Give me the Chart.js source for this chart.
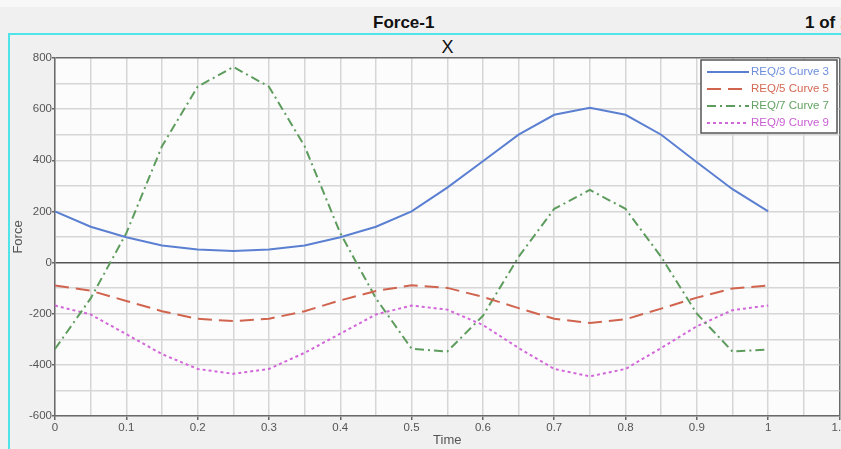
<!DOCTYPE html>
<html>
<head>
<meta charset="utf-8">
<script src="https://cdn.jsdelivr.net/npm/chart.js@4.4.0/dist/chart.umd.min.js"></script>
<style>
  body { margin: 0; width: 841px; height: 449px; overflow: hidden; background: #f0f0f0;
         font-family: "Liberation Sans", Arial, sans-serif; position: relative; }
  #strip { position: absolute; left: 0; top: 0; width: 841px; height: 7px; background: #f8f8f8; }
  .head { position: absolute; top: 13px; font-weight: bold; font-size: 17px; color: #111; white-space: nowrap; }
  #panel { position: absolute; left: 8px; top: 33px; width: 900px; height: 430px;
           border: 2px solid #4fe3ea; box-sizing: border-box; }
  #sub { position: absolute; left: 0; width: 895px; top: 37px; text-align: center; font-size: 18px; color: #111; }
  #wrap { position: absolute; left: 0; top: 0; width: 841px; height: 449px; }
</style>
</head>
<body>
<div id="strip"></div>
<div class="head" style="left:373px">Force-1</div>
<div class="head" style="left:805px">1 of 1</div>
<div id="panel"></div>
<div id="sub">X</div>
<div id="wrap"><canvas id="myChart" width="841" height="449"></canvas></div>
<script>
// values
var times = [0, 0.05, 0.1, 0.15, 0.2, 0.25, 0.3, 0.35, 0.4, 0.45, 0.5, 0.55, 0.6, 0.65, 0.7, 0.75, 0.8, 0.85, 0.9, 0.95, 1];
var curve3 = [200, 140, 99, 67, 51, 45, 51, 67, 99, 140, 200, 293, 396, 500, 578, 605, 578, 500, 392, 287, 200];
var curve5 = [-90, -110, -150, -190, -220, -229, -220, -190, -148, -111, -89, -99, -134, -178, -220, -236, -222, -180, -137, -101, -90];
var curve7 = [-338, -140, 115, 455, 688, 765, 688, 455, 115, -140, -337, -348, -208, 22, 210, 284, 210, 22, -200, -348, -340];
var curve9 = [-168, -203, -280, -358, -416, -435, -416, -353, -278, -203, -168, -184, -244, -334, -416, -445, -416, -334, -249, -186, -168];
var seriesNames = ['REQ/3 Curve 3', 'REQ/5 Curve 5', 'REQ/7 Curve 7', 'REQ/9 Curve 9'];
var xTickLabels = ['0', '0.1', '0.2', '0.3', '0.4', '0.5', '0.6', '0.7', '0.8', '0.9', '1', '1.1'];
var yTickLabels = ['-600', '-400', '-200', '0', '200', '400', '600', '800'];

function pts(vals) {
    return vals.map(function(v, i) { return {x: times[i], y: v}; });
}

var lineColors = ['#5b80d2', '#d0644e', '#5e9c5e', '#d366da'];
var textColors = ['#6d8fdc', '#d46a55', '#63a463', '#c95fd2'];
var dashes = [[], [14, 7], [9, 4, 2, 4], [3, 3]];

// plot background + boxed legend drawn on top
var extras = {
    id: 'extras',
    beforeDraw: function(chart) {
        var a = chart.chartArea, ctx = chart.ctx;
        ctx.save();
        ctx.fillStyle = '#fcfcfc';
        ctx.fillRect(a.left, a.top, a.right - a.left, a.bottom - a.top);
        ctx.restore();
    },
    afterDatasetsDraw: function(chart) {
        var a = chart.chartArea, ctx = chart.ctx;
        var w = 136, h = 73;
        var x0 = a.right - 2.5 - w, y0 = a.top + 2;
        ctx.save();
        ctx.fillStyle = '#ffffff';
        ctx.fillRect(x0, y0, w, h);
        ctx.strokeStyle = '#555';
        ctx.lineWidth = 1.5;
        ctx.strokeRect(x0, y0, w, h);
        ctx.font = '11.5px "Liberation Sans", Arial, sans-serif';
        ctx.textBaseline = 'middle';
        seriesNames.forEach(function(name, i) {
            var yy = y0 + 12 + i * 17;
            ctx.beginPath();
            ctx.setLineDash(dashes[i]);
            ctx.strokeStyle = lineColors[i];
            ctx.lineWidth = 2;
            ctx.moveTo(x0 + 6, yy);
            ctx.lineTo(x0 + 48, yy);
            ctx.stroke();
            ctx.setLineDash([]);
            ctx.fillStyle = textColors[i];
            ctx.fillText(name, x0 + 50, yy);
        });
        ctx.restore();
    }
};

var ctx = document.getElementById('myChart').getContext('2d');
var chart = new Chart(ctx, {
    type: 'line',
    data: {
        datasets: [curve3, curve5, curve7, curve9].map(function(vals, i) {
            return {
                label: seriesNames[i],
                data: pts(vals),
                borderColor: lineColors[i],
                backgroundColor: lineColors[i],
                borderWidth: 2,
                borderDash: dashes[i],
                pointRadius: 0,
                tension: 0,
                fill: false
            };
        })
    },
    options: {
        responsive: false,
        animation: false,
        layout: { padding: { left: 0, right: 1.5, top: 58, bottom: 0 } },
        plugins: {
            legend: { display: false },
            tooltip: { enabled: false }
        },
        scales: {
            x: {
                type: 'linear',
                min: 0,
                max: 1.1,
                afterFit: function(s) { s.height = 33; s.paddingLeft = 0; s.paddingRight = 0; },
                ticks: {
                    stepSize: 0.05,
                    autoSkip: false,
                    maxRotation: 0,
                    padding: 1,
                    color: '#555',
                    font: { family: '"Liberation Sans", Arial', size: 11.5 },
                    callback: function(v, i) { return i % 2 === 0 ? xTickLabels[i / 2] : ''; }
                },
                grid: {
                    color: function(c) { return c.index === 22 ? '#6a6a6a' : '#d6d6d6'; },
                    lineWidth: 1.5,
                    tickLength: 4,
                    tickColor: function(c) { return c.index % 2 === 0 ? '#666' : 'rgba(0,0,0,0)'; }
                },
                border: { color: '#6a6a6a', width: 1.5 },
                title: {
                    display: true,
                    text: 'Time',
                    color: '#555',
                    font: { family: '"Liberation Sans", Arial', size: 13 },
                    padding: { top: 0, bottom: 1 }
                }
            },
            y: {
                min: -600,
                max: 800,
                afterFit: function(s) { s.width = 55; },
                ticks: {
                    stepSize: 100,
                    padding: 0,
                    color: '#555',
                    font: { family: '"Liberation Sans", Arial', size: 11.5 },
                    callback: function(v, i) { return i % 2 === 0 ? yTickLabels[i / 2] : ''; }
                },
                grid: {
                    color: function(c) {
                        if (c.tick && c.tick.value === 0) return '#555';
                        if (c.tick && c.tick.value === 800) return '#6a6a6a';
                        return '#d6d6d6';
                    },
                    lineWidth: 1.5,
                    tickLength: 3,
                    tickColor: function(c) { return c.index % 2 === 0 ? '#666' : 'rgba(0,0,0,0)'; }
                },
                border: { color: '#6a6a6a', width: 1.5 },
                title: {
                    display: true,
                    text: 'Force',
                    color: '#555',
                    font: { family: '"Liberation Sans", Arial', size: 13 },
                    padding: { top: 11, bottom: 0 }
                }
            }
        }
    },
    plugins: [extras]
});
</script>
</body>
</html>
